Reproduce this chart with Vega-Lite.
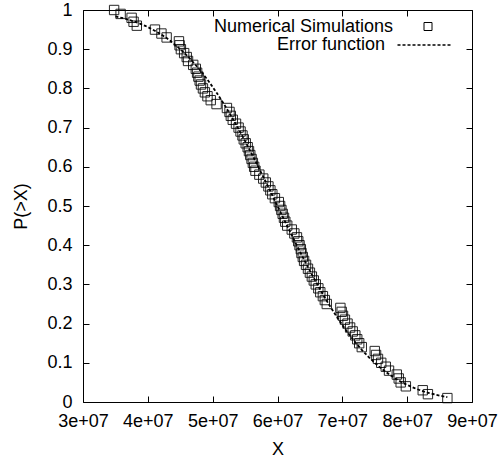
{
  "$schema": "https://vega.github.io/schema/vega-lite/v6.json",
  "autosize": {"type": "none"},
  "padding": {"left": 83, "top": 10, "right": 27, "bottom": 55},
  "width": 389,
  "height": 392,
  "background": "white",
  "config": {
    "font": "Liberation Sans",
    "view": {"stroke": null},
    "axis": {
      "grid": false,
      "domainColor": "black",
      "domainWidth": 1,
      "tickColor": "black",
      "tickWidth": 1,
      "tickSize": -6,
      "labelFont": "Liberation Sans",
      "labelFontSize": 18,
      "labelColor": "black",
      "titleFont": "Liberation Sans",
      "titleFontSize": 18,
      "titleFontWeight": "normal",
      "titleColor": "black"
    },
    "legend": {
      "labelFont": "Liberation Sans",
      "labelFontSize": 18,
      "labelColor": "black",
      "labelAlign": "right",
      "labelLimit": 400,
      "padding": 0,
      "rowPadding": 0
    }
  },
  "datasets": {
    "sim": [
      {"x": 3.48e7, "p": 1.00}, {"x": 3.58e7, "p": 0.99}, {"x": 3.75e7, "p": 0.98}, {"x": 3.78e7, "p": 0.97},
      {"x": 3.83e7, "p": 0.96}, {"x": 4.11e7, "p": 0.95}, {"x": 4.21e7, "p": 0.94}, {"x": 4.29e7, "p": 0.93},
      {"x": 4.48e7, "p": 0.92}, {"x": 4.49e7, "p": 0.91}, {"x": 4.51e7, "p": 0.90}, {"x": 4.56e7, "p": 0.89},
      {"x": 4.60e7, "p": 0.88}, {"x": 4.62e7, "p": 0.87}, {"x": 4.70e7, "p": 0.86}, {"x": 4.74e7, "p": 0.85},
      {"x": 4.76e7, "p": 0.84}, {"x": 4.78e7, "p": 0.83}, {"x": 4.80e7, "p": 0.82}, {"x": 4.82e7, "p": 0.81},
      {"x": 4.85e7, "p": 0.80}, {"x": 4.88e7, "p": 0.79}, {"x": 4.92e7, "p": 0.78}, {"x": 4.97e7, "p": 0.77},
      {"x": 5.06e7, "p": 0.76}, {"x": 5.22e7, "p": 0.75}, {"x": 5.26e7, "p": 0.74}, {"x": 5.28e7, "p": 0.73},
      {"x": 5.31e7, "p": 0.72}, {"x": 5.36e7, "p": 0.71}, {"x": 5.40e7, "p": 0.70}, {"x": 5.43e7, "p": 0.69},
      {"x": 5.46e7, "p": 0.68}, {"x": 5.48e7, "p": 0.67}, {"x": 5.51e7, "p": 0.66}, {"x": 5.54e7, "p": 0.65},
      {"x": 5.56e7, "p": 0.64}, {"x": 5.58e7, "p": 0.63}, {"x": 5.60e7, "p": 0.62}, {"x": 5.62e7, "p": 0.61},
      {"x": 5.64e7, "p": 0.60}, {"x": 5.66e7, "p": 0.59}, {"x": 5.72e7, "p": 0.58}, {"x": 5.78e7, "p": 0.57},
      {"x": 5.82e7, "p": 0.56}, {"x": 5.86e7, "p": 0.55}, {"x": 5.89e7, "p": 0.54}, {"x": 5.92e7, "p": 0.53},
      {"x": 5.96e7, "p": 0.52}, {"x": 6.02e7, "p": 0.51}, {"x": 6.04e7, "p": 0.50}, {"x": 6.06e7, "p": 0.49},
      {"x": 6.08e7, "p": 0.48}, {"x": 6.10e7, "p": 0.47}, {"x": 6.12e7, "p": 0.46}, {"x": 6.15e7, "p": 0.45},
      {"x": 6.22e7, "p": 0.44}, {"x": 6.26e7, "p": 0.43}, {"x": 6.30e7, "p": 0.42}, {"x": 6.32e7, "p": 0.41},
      {"x": 6.34e7, "p": 0.40}, {"x": 6.36e7, "p": 0.39}, {"x": 6.37e7, "p": 0.38}, {"x": 6.39e7, "p": 0.37},
      {"x": 6.41e7, "p": 0.36}, {"x": 6.44e7, "p": 0.35}, {"x": 6.47e7, "p": 0.34}, {"x": 6.50e7, "p": 0.33},
      {"x": 6.53e7, "p": 0.32}, {"x": 6.56e7, "p": 0.31}, {"x": 6.59e7, "p": 0.30}, {"x": 6.63e7, "p": 0.29},
      {"x": 6.66e7, "p": 0.28}, {"x": 6.70e7, "p": 0.27}, {"x": 6.73e7, "p": 0.26}, {"x": 6.76e7, "p": 0.25},
      {"x": 6.97e7, "p": 0.24}, {"x": 6.99e7, "p": 0.23}, {"x": 7.01e7, "p": 0.22}, {"x": 7.04e7, "p": 0.21},
      {"x": 7.08e7, "p": 0.20}, {"x": 7.12e7, "p": 0.19}, {"x": 7.16e7, "p": 0.18}, {"x": 7.20e7, "p": 0.17},
      {"x": 7.23e7, "p": 0.16}, {"x": 7.26e7, "p": 0.15}, {"x": 7.30e7, "p": 0.14}, {"x": 7.50e7, "p": 0.13},
      {"x": 7.52e7, "p": 0.12}, {"x": 7.55e7, "p": 0.11}, {"x": 7.60e7, "p": 0.10}, {"x": 7.67e7, "p": 0.09},
      {"x": 7.72e7, "p": 0.08}, {"x": 7.84e7, "p": 0.07}, {"x": 7.87e7, "p": 0.06}, {"x": 7.90e7, "p": 0.05},
      {"x": 7.98e7, "p": 0.04}, {"x": 8.24e7, "p": 0.03}, {"x": 8.32e7, "p": 0.02}, {"x": 8.62e7, "p": 0.01}
    ],
    "erf": [
      {"x": 3.5e7, "p": 0.9837}, {"x": 3.66e7, "p": 0.9772}, {"x": 3.894e7, "p": 0.9641}, {"x": 4.128e7, "p": 0.9452},
      {"x": 4.362e7, "p": 0.9192}, {"x": 4.596e7, "p": 0.8849}, {"x": 4.83e7, "p": 0.8413}, {"x": 5.064e7, "p": 0.7881},
      {"x": 5.298e7, "p": 0.7257}, {"x": 5.532e7, "p": 0.6554}, {"x": 5.766e7, "p": 0.5793}, {"x": 6.0e7, "p": 0.5},
      {"x": 6.234e7, "p": 0.4207}, {"x": 6.468e7, "p": 0.3446}, {"x": 6.702e7, "p": 0.2743}, {"x": 6.936e7, "p": 0.2119},
      {"x": 7.17e7, "p": 0.1587}, {"x": 7.404e7, "p": 0.1151}, {"x": 7.638e7, "p": 0.0808}, {"x": 7.872e7, "p": 0.0548},
      {"x": 8.106e7, "p": 0.0359}, {"x": 8.34e7, "p": 0.0228}, {"x": 8.574e7, "p": 0.0139}, {"x": 8.62e7, "p": 0.0125}
    ]
  },
  "resolve": {"axis": {"x": "independent", "y": "independent"}},
  "layer": [
    {
      "data": {"name": "sim"},
      "mark": {"type": "point", "filled": false, "size": 88, "strokeWidth": 1, "opacity": 0.85, "color": "black"},
      "encoding": {
        "x": {
          "field": "x", "type": "quantitative",
          "scale": {"domain": [30000000, 90000000], "nice": false, "zero": false},
          "axis": {
            "orient": "bottom", "title": "X",
            "values": [30000000, 40000000, 50000000, 60000000, 70000000, 80000000, 90000000],
            "labelExpr": "replace(format(datum.value, '.0e'), 'e+', 'e+0')",
            "labelPadding": 16, "titlePadding": 10, "labelFlush": false, "labelOverlap": false
          }
        },
        "y": {
          "field": "p", "type": "quantitative",
          "scale": {"domain": [0, 1], "nice": false, "zero": false},
          "axis": {
            "orient": "left", "title": "P(>X)",
            "values": [0, 0.1, 0.2, 0.3, 0.4, 0.5, 0.6, 0.7, 0.8, 0.9, 1],
            "labelExpr": "format(datum.value, '~g')",
            "labelPadding": 17, "titlePadding": 16, "labelOverlap": false
          }
        },
        "shape": {
          "datum": "Numerical Simulations", "type": "nominal",
          "scale": {"domain": ["Numerical Simulations"], "range": ["square"]},
          "legend": {
            "title": null,
            "orient": "none",
            "legendX": 336,
            "legendY": 7.5,
            "symbolSize": 64,
            "symbolStrokeWidth": 1,
            "symbolStrokeColor": "black",
            "symbolFillColor": "transparent",
            "symbolOpacity": 1,
            "labelOffset": -44
          }
        }
      }
    },
    {
      "data": {"name": "erf"},
      "mark": {"type": "line", "strokeWidth": 1.8, "interpolate": "monotone", "color": "black"},
      "encoding": {
        "x": {
          "field": "x", "type": "quantitative",
          "axis": {
            "orient": "top", "title": null, "labels": false,
            "values": [30000000, 40000000, 50000000, 60000000, 70000000, 80000000, 90000000]
          }
        },
        "y": {
          "field": "p", "type": "quantitative",
          "axis": {
            "orient": "right", "title": null, "labels": false,
            "values": [0, 0.1, 0.2, 0.3, 0.4, 0.5, 0.6, 0.7, 0.8, 0.9, 1]
          }
        },
        "strokeDash": {
          "datum": "Error function", "type": "nominal",
          "scale": {"domain": ["Error function"], "range": [[3, 2]]},
          "legend": {
            "title": null,
            "orient": "none",
            "legendX": 313.5,
            "legendY": 7.5,
            "symbolType": "stroke",
            "symbolSize": 2809,
            "symbolStrokeWidth": 1.5,
            "symbolStrokeColor": "black",
            "symbolDash": [3, 2],
            "labelOffset": -66.5
          }
        }
      }
    }
  ]
}
